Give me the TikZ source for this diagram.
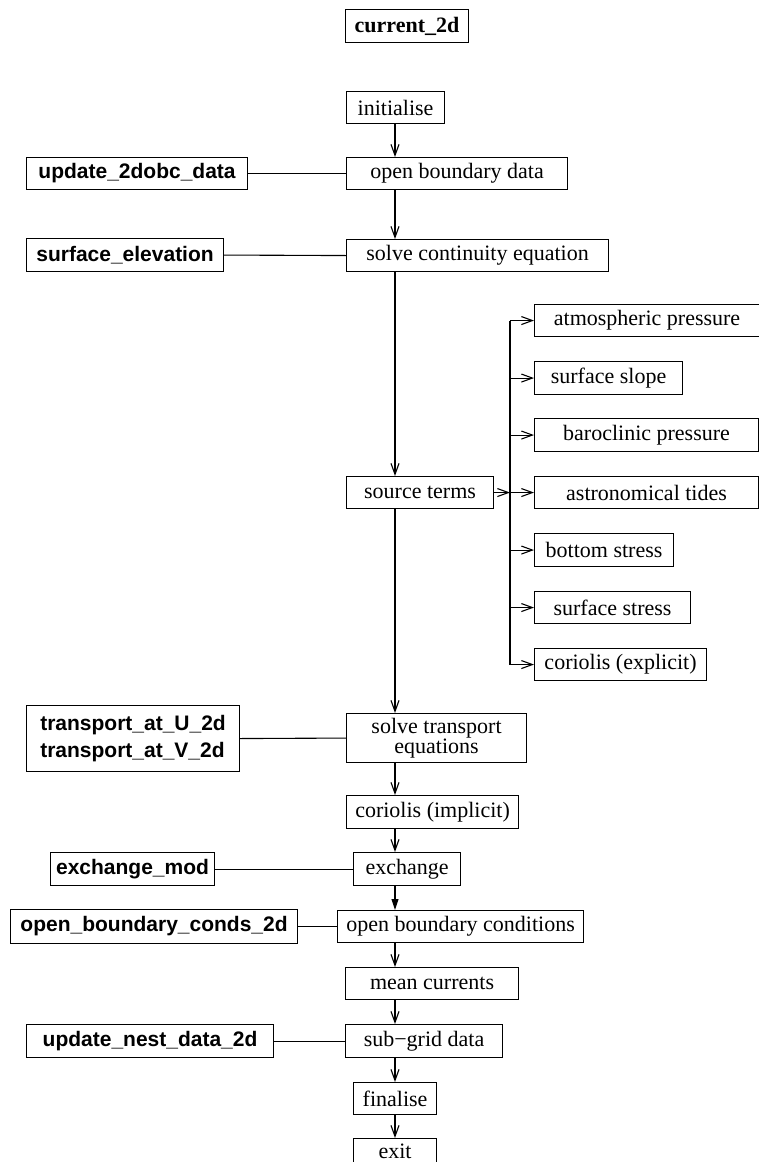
\documentclass[tikz,border=0pt]{standalone}
\usepackage{fontspec}
\setmainfont{Liberation Serif}
\newfontfamily\hsans{Liberation Sans}
\usetikzlibrary{arrows.meta}
\newcommand\mybox[7]{\node[#1,minimum width={#5-#3},minimum height={#6-#4}] (#2) at (#3,#4) {#7};}
\begin{document}
\begin{tikzpicture}[x=1pt,y=-1pt,
  box/.style={draw, line width=1.1pt, inner sep=0pt, anchor=north west, font=\fontsize{22}{24}\selectfont},
  tbox/.style={box, font=\bfseries\fontsize{22}{24}\selectfont},
  sbox/.style={box, font=\hsans\bfseries\fontsize{21}{27}\selectfont},
  ln/.style={line width=1.1pt},
  arr/.style={ln, -{Straight Barb[length=11pt,width=8pt,line width=1.1pt]}},
  farr/.style={ln, -{Triangle[length=11pt,width=7pt]}}]
\useasboundingbox (0,0) rectangle (759,1162);
\clip (0,0) rectangle (759,1162);
% main column
\mybox{tbox}{cur}{345}{9}{468}{42}{current\_2d}
\mybox{box}{init}{346}{91}{444}{123}{initialise}
\mybox{box}{obd}{346}{157}{567}{189}{open boundary data}
\mybox{box}{sce}{346}{239}{608}{271}{solve continuity equation}
\mybox{box}{src}{346}{476}{493}{508}{source terms}
\mybox{box,align=center,font=\fontsize{22}{19}\selectfont}{ste}{346}{713}{526}{762}{solve transport\\equations}
\mybox{box}{cim}{346}{795}{518}{828}{coriolis (implicit)}
\mybox{box}{exc}{353}{852}{460}{885}{exchange}
\mybox{box}{obc}{337}{910}{583}{942}{open boundary conditions}
\mybox{box}{mc}{345}{967}{518}{999}{mean currents}
\mybox{box}{sg}{345}{1024}{502}{1057}{sub−grid data}
\mybox{box}{fin}{353}{1082}{436}{1114}{finalise}
\mybox{box}{ext}{353}{1138}{436}{1163}{exit}
\draw[line width=1.1pt] (ext.south west) -- ++(0,10) (ext.south east) -- ++(0,10);
% left column
\mybox{sbox}{u2d}{26}{157}{247}{189}{update\_2dobc\_data}
\mybox{sbox}{sel}{26}{238}{223}{271}{surface\_elevation}
\mybox{sbox,align=left}{tr}{26}{705}{239}{771}{transport\_at\_U\_2d\\transport\_at\_V\_2d}
\mybox{sbox}{exm}{50}{852}{214}{885}{exchange\_mod}
\mybox{sbox}{obcm}{10}{909}{297}{943}{open\_boundary\_conds\_2d}
\mybox{sbox}{und}{26}{1024}{273}{1057}{update\_nest\_data\_2d}
% right column
\mybox{box}{atm}{534}{304}{759}{336}{atmospheric pressure}
\mybox{box}{ssl}{534}{361}{682}{394}{surface slope}
\mybox{box}{bcp}{534}{418}{758}{451}{baroclinic pressure}
\mybox{box}{ast}{534}{476}{758}{508}{astronomical tides}
\mybox{box}{bst}{534}{533}{673}{566}{bottom stress}
\mybox{box}{sst}{534}{591}{690}{623}{surface stress}
\mybox{box}{cex}{534}{648}{706}{680}{coriolis (explicit)}
% spine
\coordinate (sp) at (395,0);
\draw[arr] (init.south -| sp) -- (obd.north -| sp);
\draw[arr] (obd.south -| sp) -- (sce.north -| sp);
\draw[arr] (sce.south -| sp) -- (src.north -| sp);
\draw[arr] (src.south -| sp) -- (ste.north -| sp);
\draw[arr] (ste.south -| sp) -- (cim.north -| sp);
\draw[arr] (cim.south -| sp) -- (exc.north -| sp);
\draw[farr] (exc.south -| sp) -- (obc.north -| sp);
\draw[arr] (obc.south -| sp) -- (mc.north -| sp);
\draw[arr] (mc.south -| sp) -- (sg.north -| sp);
\draw[arr] (sg.south -| sp) -- (fin.north -| sp);
\draw[arr] (fin.south -| sp) -- (ext.north -| sp);
% left links
\draw[ln] (u2d.east) -- (obd.west);
\draw[ln] (sel.east) -- (sce.west);
\draw[ln] (tr.east) -- (ste.west);
\draw[ln] (exm.east) -- (exc.west);
\draw[ln] (obcm.east) -- (obc.west);
\draw[ln] (und.east) -- (sg.west);
% branch
\coordinate (br) at (510,0);
\draw[ln] (atm.west -| br) -- (cex.west -| br);
\draw[arr] (src.east) -- (src.east -| br);
\foreach \n in {atm,ssl,bcp,ast,bst,sst,cex} \draw[arr] (\n.west -| br) -- (\n.west);
\end{tikzpicture}
\end{document}
